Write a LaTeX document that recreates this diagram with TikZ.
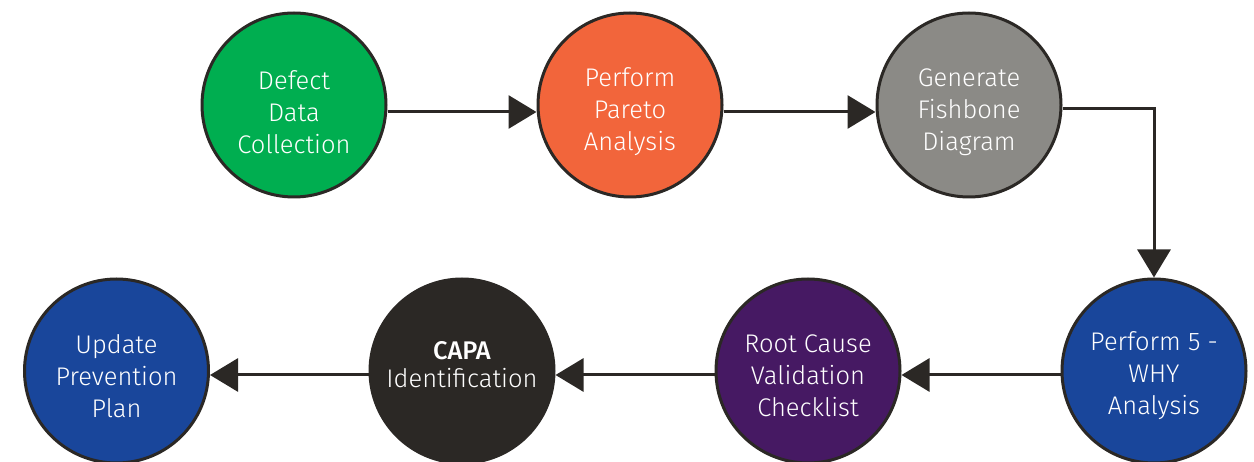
\documentclass[tikz,border=0pt]{standalone}
\usepackage{fontspec}
\setmainfont{Fira Sans}[UprightFont=* Light, BoldFont=* Medium]
\usetikzlibrary{arrows.meta}
\definecolor{cgreen}{HTML}{00AE50}
\definecolor{corange}{HTML}{F2653B}
\definecolor{cgray}{HTML}{8B8A86}
\definecolor{cblue}{HTML}{19469B}
\definecolor{cpurple}{HTML}{461963}
\definecolor{cdark}{HTML}{2B2825}
\tikzset{
  stage/.style={circle, draw=cdark, line width=3pt, minimum size=184pt, inner sep=0pt},
  txt/.style={text=white, align=center, font=\fontsize{25.5}{32}\selectfont},
  conn/.style={draw=cdark, line width=3pt, -{Triangle[length=28pt,width=33pt]}}
}
\begin{document}
\begin{tikzpicture}[x=1pt,y=-1pt]
\useasboundingbox (0,0) rectangle (1254,462);
\node[stage, fill=cgreen, label={[txt,yshift=-7pt]center:{Defect\\Data\\Collection}}] (a) at (294,105) {};
\node[stage, fill=corange, label={[txt,yshift=-7pt]center:{Perform\\Pareto\\Analysis}}] (b) at (630,105) {};
\node[stage, fill=cgray, label={[txt,yshift=-7pt]center:{Generate\\Fishbone\\Diagram}}] (c) at (969,105) {};
\node[stage, fill=cblue, label={[txt,yshift=-5pt]center:{Perform 5 -\\WHY\\Analysis}}] (d) at (1154,371) {};
\node[stage, fill=cpurple, label={[txt,yshift=-5pt]center:{Root Cause\\Validation\\Checklist}}] (e) at (808,371) {};
\node[stage, fill=cdark, label={[txt,yshift=6pt]center:{\textbf{CAPA}\\[-4pt]Identification}}] (f) at (462,371) {};
\node[stage, fill=cblue, label={[txt,yshift=-5pt]center:{Update\\Prevention\\Plan}}] (g) at (116.5,371) {};
\draw[conn] ([yshift=-7pt]a.east) -- ([yshift=-7pt]b.west);
\draw[conn] ([yshift=-7pt]b.east) -- ([yshift=-7pt]c.west);
\draw[conn] ([yshift=-4pt]c.east) -| (d.north);
\draw[conn] ([yshift=-4pt]d.west) -- ([yshift=-4pt]e.east);
\draw[conn] ([yshift=-4pt]e.west) -- ([yshift=-4pt]f.east);
\draw[conn] ([yshift=-4pt]f.west) -- ([yshift=-4pt]g.east);
\end{tikzpicture}
\end{document}
